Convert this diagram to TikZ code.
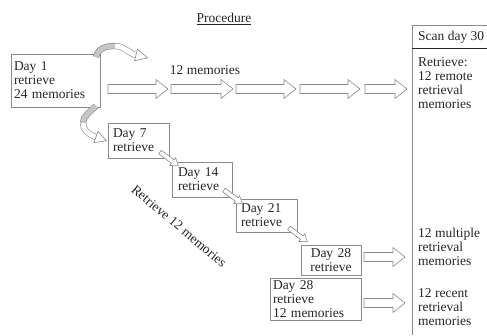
\documentclass[tikz,border=0pt]{standalone}
\usepackage{fontspec}
\setmainfont{Liberation Serif}
\definecolor{ink}{HTML}{262626}
\definecolor{edge}{HTML}{8A8A8A}
\newcommand{\myBigArrow}[3]{\draw[holl] (#1,#3-4.5) -- (#2-12,#3-4.5) -- (#2-12,#3-9.5) -- (#2,#3) -- (#2-12,#3+9.5) -- (#2-12,#3+4.5) -- (#1,#3+4.5) -- cycle;}
\newcommand{\mySmallArrow}[4]{\draw[holl, shift={(#1,#2)}, rotate=#3] (0,-2.2) -- (#4-7,-2.2) -- (#4-7,-4.8) -- (#4,0) -- (#4-7,4.8) -- (#4-7,2.2) -- (0,2.2) -- cycle;}
\begin{document}
\begin{tikzpicture}[x=1pt,y=-1pt,
  txt/.style={font=\fontsize{13.5}{14}\selectfont, text=ink, inner sep=0pt, align=left},
  box/.style={txt, draw=edge, line width=0.6pt, inner xsep=3pt, inner ysep=0pt},
  holl/.style={draw=edge, fill=white, line width=0.6pt, line join=miter},
  ribbon/.style={draw=edge, line width=0.6pt, double distance=5pt}]
\useasboundingbox (0,0) rectangle (487,335);
\clip (0,0) rectangle (487,335);

% title
\node[txt] (title) at (224,19) {\underline{Procedure}};

% boxes
\node[box, text width=83pt, minimum height=53pt] (d1) at (55.5,80.5) {Day 1\\retrieve\\24 memories};
\node[box, inner xsep=5pt, text width=51pt, minimum height=35pt] (d7) at (138.5,140.5) {Day 7\\retrieve};
\node[box, inner xsep=6pt, text width=48pt, minimum height=35pt] (d14) at (202,179.5) {Day 14\\retrieve};
\node[box, inner xsep=5pt, text width=51pt, minimum height=33pt] (d21) at (266.5,215.5) {Day 21\\retrieve};
\node[box, inner xsep=4pt, text width=52pt, minimum height=30pt, align=center] (d28a) at (331,260) {Day 28\\retrieve};
\node[box, text width=85pt, minimum height=42pt] (d28b) at (315.5,299) {Day 28\\retrieve\\12 memories};

% scan column
\draw[edge, line width=0.6pt] (412,335) -- (412,25) -- (487,25);
\draw[ink, line width=0.9pt] (412,48) -- (487,48);
\node[txt, anchor=west] (scan) at (418,37) {Scan day 30};
\node[txt, anchor=west] (rem) at (418,83) {Retrieve:\\12 remote\\retrieval\\memories};
\node[txt, anchor=west] (mult) at (418,247) {12 multiple\\retrieval\\memories};
\node[txt, anchor=west] (rec) at (418,307) {12 recent\\retrieval\\memories};

% labels
\node[txt] (m12) at (205,70) {12 memories};
\node[txt, rotate=-40] (ret12) at (179,226) {Retrieve 12 memories};

% big hollow arrows
\myBigArrow{108}{168}{89}
\myBigArrow{171}{233}{89}
\myBigArrow{236}{296}{89}
\myBigArrow{300}{360}{89}
\myBigArrow{365}{407}{89}
\myBigArrow{364}{405}{257}
\myBigArrow{364}{405}{303}

% small diagonal arrows
\mySmallArrow{160}{152}{-37}{23}
\mySmallArrow{224}{190}{-37}{23}
\mySmallArrow{289}{228}{-37}{23}

% curved ribbon arrows
\draw[ribbon, double=gray!45] (96,57) .. controls (98,48) and (106,46) .. (115,46);
\draw[ribbon, double=white] (115,46) .. controls (124,46) and (128,53) .. (136,55);
\filldraw[holl] (134.5,60.8) -- (147.6,57.9) -- (137.5,49.2) -- cycle;

\draw[ribbon, double=gray!45] (96,106) .. controls (90,112) and (83,116) .. (83,123);
\draw[ribbon, double=white] (83,123) .. controls (83,130) and (88,134) .. (96,137);
\filldraw[holl] (93.9,142.6) -- (106.3,140.9) -- (98.1,131.4) -- cycle;
\end{tikzpicture}
\end{document}
